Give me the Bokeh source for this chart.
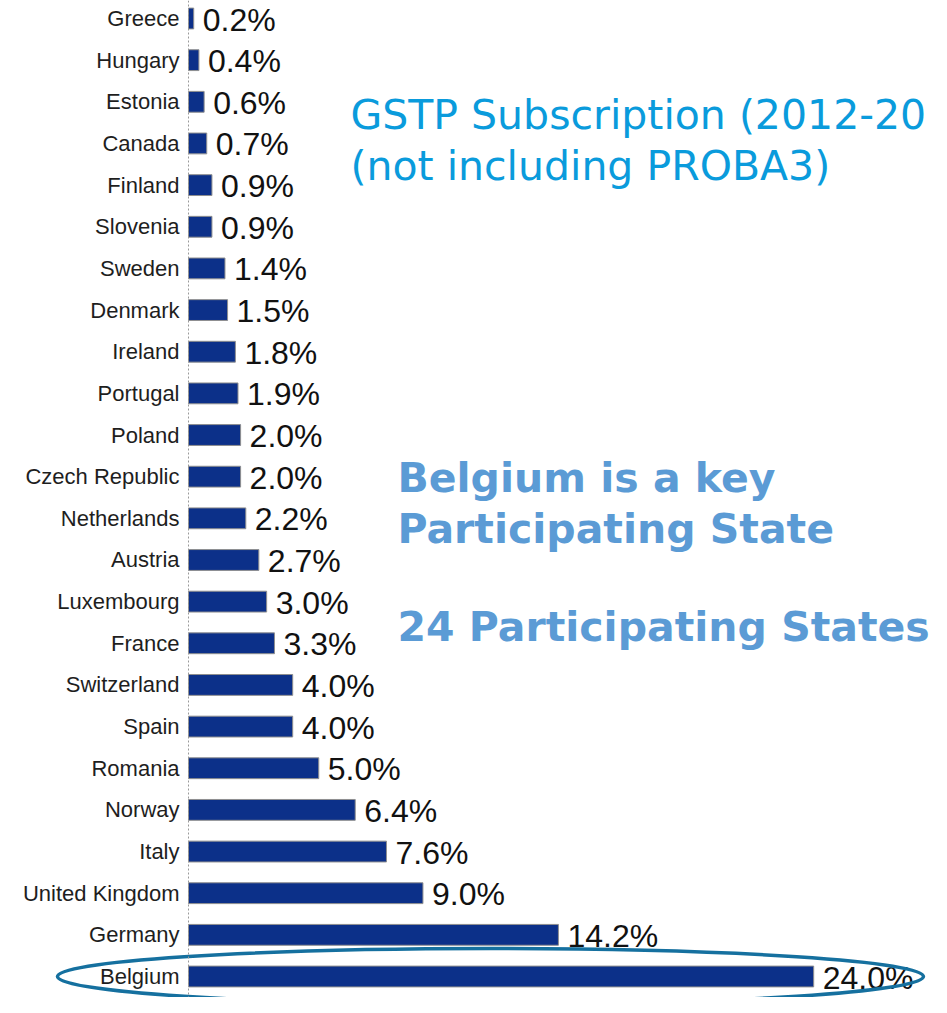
from bokeh.plotting import figure
from bokeh.models import ColumnDataSource, Span, Range1d
from bokeh.core.properties import value
from bokeh.embed import file_html
from bokeh.resources import INLINE

# Data (top to bottom as shown)
countries = ["Greece", "Hungary", "Estonia", "Canada", "Finland", "Slovenia", "Sweden",
             "Denmark", "Ireland", "Portugal", "Poland", "Czech Republic", "Netherlands",
             "Austria", "Luxembourg", "France", "Switzerland", "Spain", "Romania", "Norway",
             "Italy", "United Kingdom", "Germany", "Belgium"]
shares = [0.2, 0.4, 0.6, 0.7, 0.9, 0.9, 1.4, 1.5, 1.8, 1.9, 2.0, 2.0, 2.2, 2.7, 3.0, 3.3,
          4.0, 4.0, 5.0, 6.4, 7.6, 9.0, 14.2, 24.0]

title_lines = ["GSTP Subscription (2012-20", "(not including PROBA3)"]
note_lines = ["Belgium is a key", "Participating State", "24 Participating States"]

n = len(countries)
ypos = [n - 1 - i for i in range(n)]
labels = [f"{v:.1f}%" for v in shares]

src = ColumnDataSource(dict(country=countries, share=shares, y=ypos, label=labels))

# ---- layout (pixels) ----
W, H = 931, 997
px_per_unit = 26.05
axis_px = 188
top_row_px, bot_row_px = 18, 976
row_px = (bot_row_px - top_row_px) / (n - 1)

x_start = -axis_px / px_per_unit
x_end = (W - axis_px) / px_per_unit
y_end = (n - 1) + top_row_px / row_px
y_start = -(H - bot_row_px) / row_px


def px_x(px):
    return x_start + px / px_per_unit


def px_y(ref_py):
    # reference pixel y -> data y (compressed slightly to fit the canvas)
    fy = top_row_px + (ref_py - 18) * (bot_row_px - top_row_px) / (996 - 18)
    return y_end - fy / row_px


p = figure(width=W, height=H, output_backend="svg", toolbar_location=None,
           x_range=Range1d(x_start, x_end), y_range=Range1d(y_start, y_end),
           min_border=0, min_border_left=0, min_border_right=0,
           min_border_top=0, min_border_bottom=0)
p.axis.visible = False
p.grid.visible = False
p.outline_line_color = None
p.background_fill_color = "white"
p.border_fill_color = "white"

# dashed axis line
p.add_layout(Span(location=0, dimension="height", line_color="#9a9a9a",
                  line_dash="2 2", line_width=1))

p.hbar(y="y", left=0, right="share", height=0.5, source=src,
       fill_color="#0C3089", line_color="#8f8f8f", line_width=1)

p.text(x=0, y="y", text="country", source=src, x_offset=-9,
       text_align="right", text_baseline="middle",
       text_font=value("Liberation Sans"), text_font_size="22px",
       text_color="#1e1e1e")

p.text(x="share", y="y", text="label", source=src, x_offset=9, y_offset=1,
       text_align="left", text_baseline="middle",
       text_font=value("Liberation Sans"), text_font_size="32px",
       text_color="#111111")

# Highlight ellipse around Belgium
b_idx = countries.index("Belgium")
p.ellipse(x=[shares[b_idx] * 0.483], y=[ypos[b_idx]], width=866, height=56,
          width_units="screen", height_units="screen",
          fill_color=None, line_color="#15709F", line_width=3.5)

# Titles / notes
p.text(x=[px_x(350)] * 2, y=[px_y(117), px_y(169)], text=title_lines,
       text_align="left", text_baseline="alphabetic",
       text_font=value("DejaVu Sans"), text_font_size="41px",
       text_color="#0A9BDC")
p.text(x=[px_x(397)] * 3, y=[px_y(487), px_y(539), px_y(639)], text=note_lines,
       text_align="left", text_baseline="alphabetic",
       text_font=value("DejaVu Sans"), text_font_size="41px",
       text_font_style="bold", text_color="#5B9BD5")

open("out.html", "w").write(file_html(p, INLINE))
